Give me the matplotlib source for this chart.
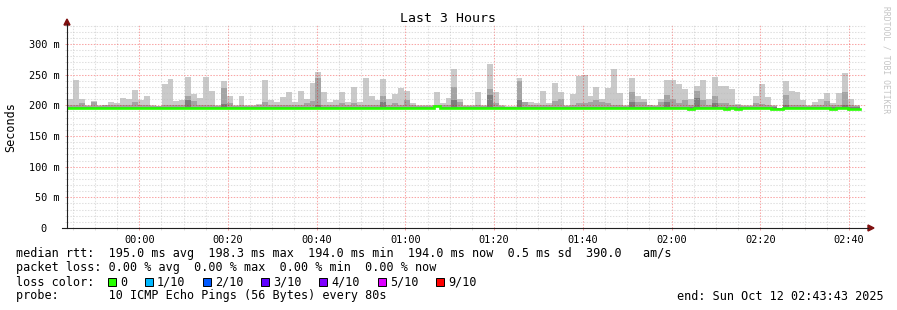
import matplotlib
matplotlib.use("Agg")
import matplotlib.pyplot as plt
import matplotlib.dates as mdates
from matplotlib.lines import Line2D
from matplotlib.patches import Polygon, Rectangle
from datetime import datetime, timedelta

W, H = 897, 310

start_time = datetime(2025, 10, 11, 23, 43, 43)
end_time = datetime(2025, 10, 12, 2, 43, 43)
step_seconds = 80

# rtt per 80 s step in ms, read off the smoke bands
# highest ping of the step (light gray)
ping_max = [
    211, 242, 211, 200, 207, 200, 201, 206, 204, 212,
    211, 225, 209, 216, 200, 199, 234, 243, 207, 209,
    247, 219, 212, 247, 224, 200, 240, 216, 200, 216,
    201, 200, 203, 242, 209, 205, 214, 221, 205, 224,
    211, 236, 255, 222, 206, 209, 222, 206, 230, 206,
    245, 216, 209, 243, 211, 218, 229, 224, 204, 200,
    200, 200, 222, 204, 212, 260, 211, 201, 200, 222,
    200, 268, 222, 200, 199, 199, 245, 206, 205, 204,
    224, 204, 237, 221, 200, 219, 248, 250, 216, 230,
    211, 229, 260, 220, 200, 245, 216, 211, 201, 200,
    211, 242, 242, 235, 227, 211, 231, 242, 211, 247,
    232, 232, 227, 203, 200, 200, 215, 234, 213, 200,
    196, 240, 224, 222, 209, 200, 205, 211, 220, 204,
    220, 252, 211, 200,
]
# second highest ping (mid gray)
ping_2nd = [
    200, 200, 204, 199, 205, 199, 200, 200, 200, 200,
    200, 205, 200, 200, 199, 199, 200, 200, 200, 200,
    216, 207, 200, 200, 200, 199, 229, 204, 199, 200,
    199, 199, 200, 205, 200, 200, 200, 200, 200, 200,
    204, 207, 245, 200, 200, 200, 204, 200, 204, 200,
    200, 200, 200, 216, 200, 204, 200, 209, 200, 199,
    199, 199, 200, 200, 200, 230, 205, 199, 199, 200,
    199, 227, 204, 199, 198, 198, 240, 205, 200, 200,
    200, 200, 207, 211, 199, 200, 204, 204, 206, 208,
    206, 204, 200, 200, 199, 221, 206, 206, 200, 199,
    206, 217, 211, 204, 208, 200, 224, 209, 200, 216,
    204, 204, 200, 200, 199, 199, 204, 203, 200, 199,
    196, 217, 200, 200, 200, 199, 200, 200, 207, 200,
    200, 221, 200, 199,
]
# third highest ping (dark gray)
ping_3rd = [
    197, 197, 197, 197, 197, 197, 197, 197, 197, 197,
    197, 197, 197, 197, 197, 197, 197, 197, 197, 197,
    208, 197, 197, 197, 197, 197, 203, 197, 197, 197,
    197, 197, 197, 197, 197, 197, 197, 197, 197, 197,
    197, 197, 201, 197, 197, 197, 197, 197, 197, 197,
    197, 197, 197, 206, 197, 197, 197, 197, 197, 197,
    197, 197, 198, 197, 197, 209, 197, 197, 197, 197,
    197, 217, 197, 197, 197, 197, 209, 197, 197, 197,
    197, 197, 197, 197, 197, 197, 197, 197, 197, 197,
    197, 197, 197, 197, 197, 205, 197, 197, 197, 197,
    197, 206, 197, 197, 197, 197, 212, 197, 197, 204,
    197, 197, 197, 197, 197, 197, 197, 197, 197, 197,
    196, 200, 197, 197, 197, 197, 197, 197, 197, 197,
    197, 201, 197, 197,
]
# median rtt (all steps with 0 loss)
median_rtt = [
    195.2, 195.2, 195.2, 195.2, 195.2, 195.2, 195.2, 195.2, 195.2, 195.2,
    195.2, 195.2, 195.2, 195.2, 195.2, 195.2, 195.2, 195.2, 195.2, 195.2,
    195.2, 195.2, 195.2, 195.2, 195.2, 195.2, 195.2, 195.2, 195.2, 195.2,
    195.2, 195.2, 195.2, 195.2, 195.2, 195.2, 195.2, 195.2, 195.2, 195.2,
    195.2, 195.2, 195.2, 195.2, 195.2, 195.2, 195.2, 195.2, 195.2, 195.2,
    195.2, 195.2, 195.2, 195.2, 195.2, 195.2, 195.2, 195.2, 195.2, 195.2,
    195.2, 195.2, 198.3, 195.2, 195.2, 195.2, 195.2, 195.2, 195.2, 195.2,
    195.2, 195.2, 195.2, 195.2, 195.2, 195.2, 195.2, 195.2, 195.2, 195.2,
    195.2, 195.2, 195.2, 195.2, 195.2, 195.2, 195.2, 195.2, 195.2, 195.2,
    195.2, 195.2, 195.2, 195.2, 195.2, 195.2, 195.2, 195.2, 195.2, 195.2,
    195.2, 195.2, 195.2, 195.2, 195.2, 194.0, 195.0, 195.0, 195.0, 195.0,
    195.0, 194.0, 195.0, 194.0, 195.0, 195.0, 195.0, 195.0, 195.0, 194.0,
    194.0, 195.0, 195.0, 195.0, 195.0, 195.0, 195.0, 195.0, 195.0, 194.0,
    195.0, 195.0, 194.0, 194.0,
]

y_ticks = [0, 50, 100, 150, 200, 250, 300]
y_tick_labels = ["0  ", "50 m", "100 m", "150 m", "200 m", "250 m", "300 m"]
x_tick_labels = ["00:00", "00:20", "00:40", "01:00", "01:20", "01:40",
                 "02:00", "02:20", "02:40"]

legend_lines = [
    "median rtt:  195.0 ms avg  198.3 ms max  194.0 ms min  194.0 ms now  0.5 ms sd  390.0   am/s",
    "packet loss: 0.00 % avg  0.00 % max  0.00 % min  0.00 % now",
    "loss color:",
    "probe:       10 ICMP Echo Pings (56 Bytes) every 80s",
]
end_label = "end: Sun Oct 12 02:43:43 2025"
loss_labels = ["0", "1/10", "2/10", "3/10", "4/10", "5/10", "9/10"]
loss_colors = ["#26ff00", "#00b8ff", "#0059ff", "#5e00ff", "#7e00ff", "#dd00ff", "#ff0000"]
loss_box_x = [108, 145, 203, 261, 319, 378, 436]


def fx(x):
    return x / W


def fy(y):
    return 1 - y / H


plt.rcParams['font.family'] = ['DejaVu Sans Mono']

fig = plt.figure(figsize=(W / 100, H / 100), dpi=100)
fig.patch.set_facecolor("white")
ax = fig.add_axes([fx(67), fy(228), (865.5 - 67) / W, (228 - 25) / H])

times = [start_time + timedelta(seconds=step_seconds * i) for i in range(len(ping_max))]
xnum = mdates.date2num(times)
width = step_seconds / 86400.0

def band(top, color):
    heights = [t - m if t > m else 0 for t, m in zip(top, median_rtt)]
    ax.bar(xnum, heights, bottom=median_rtt, width=width, align="edge",
           color=color, linewidth=0, zorder=1)

band(ping_max, "#cacaca")
band(ping_2nd, "#a4a4a4")
band(ping_3rd, "#7e7e7e")

edges = list(xnum) + [xnum[-1] + width]
ax.step(edges, median_rtt + [median_rtt[-1]], where="post", color="#26ff00",
        linewidth=1.9, zorder=4, solid_joinstyle="miter")

ax.set_xlim(mdates.date2num(start_time), mdates.date2num(end_time))
ax.set_ylim(0, 331)

x_ticks = [mdates.date2num(datetime.strptime(("2025-10-12 " + t), "%Y-%m-%d %H:%M"))
           for t in x_tick_labels]
ax.set_xticks(x_ticks)
ax.set_xticklabels(x_tick_labels)
ax.xaxis.set_minor_locator(mdates.MinuteLocator(byminute=range(0, 60, 5)))
ax.set_yticks(y_ticks)
ax.set_yticklabels(y_tick_labels)
ax.set_yticks(range(0, 331, 10), minor=True)

ax.grid(which="minor", color="#bababa", alpha=0.45, linewidth=0.75,
        linestyle=(0, (1.4, 1.4)), zorder=2)
ax.grid(which="major", color="#f00000", alpha=0.35, linewidth=0.75,
        linestyle=(0, (1.4, 1.4)), zorder=3)
ax.set_axisbelow(False)

ax.tick_params(axis="both", which="major", length=1.6, width=0.7, color="#f5a0a0",
               labelsize=7.4, pad=3.6)
ax.tick_params(axis="both", which="minor", length=1.6, width=0.7, color="#dddddd")
for s in ax.spines.values():
    s.set_visible(False)

# axis lines with arrow heads
fig.add_artist(Line2D([fx(67), fx(67)], [fy(228), fy(24)], color="#202020", lw=0.8))
fig.add_artist(Line2D([fx(62), fx(868)], [fy(228), fy(228)], color="#202020", lw=0.8))
fig.add_artist(Polygon([(fx(64), fy(25)), (fx(70), fy(25)), (fx(67), fy(19))],
                       closed=True, color="#7f1010", transform=fig.transFigure))
fig.add_artist(Polygon([(fx(868), fy(225)), (fx(868), fy(231)), (fx(874), fy(228))],
                       closed=True, color="#7f1010", transform=fig.transFigure))

fig.text(fx(448), fy(19), "Last 3 Hours", ha="center", va="center", fontsize=9.5)
fig.text(fx(11), fy(127), "Seconds", ha="center", va="center", rotation=90, fontsize=8.5)
fig.text(fx(886), fy(60), "RRDTOOL / TOBI OETIKER", ha="center", va="center",
         rotation=270, fontsize=5.8, color="#c4c4c4")

line_y = [254, 268, 282, 296]
for txt, yy in zip(legend_lines, line_y):
    fig.text(fx(16), fy(yy), txt, ha="left", va="center", fontsize=8.5)
fig.text(fx(677), fy(296), end_label, ha="left", va="center", fontsize=8.5)

for lab, col, bx in zip(loss_labels, loss_colors, loss_box_x):
    fig.add_artist(Rectangle((fx(bx), fy(286)), 8 / W, 8 / H, facecolor=col,
                             edgecolor="#000000", linewidth=0.7,
                             transform=fig.transFigure))
    fig.text(fx(bx + 12), fy(282), lab, ha="left", va="center", fontsize=8.5)

fig.savefig("out.png", dpi=100, facecolor="white")
